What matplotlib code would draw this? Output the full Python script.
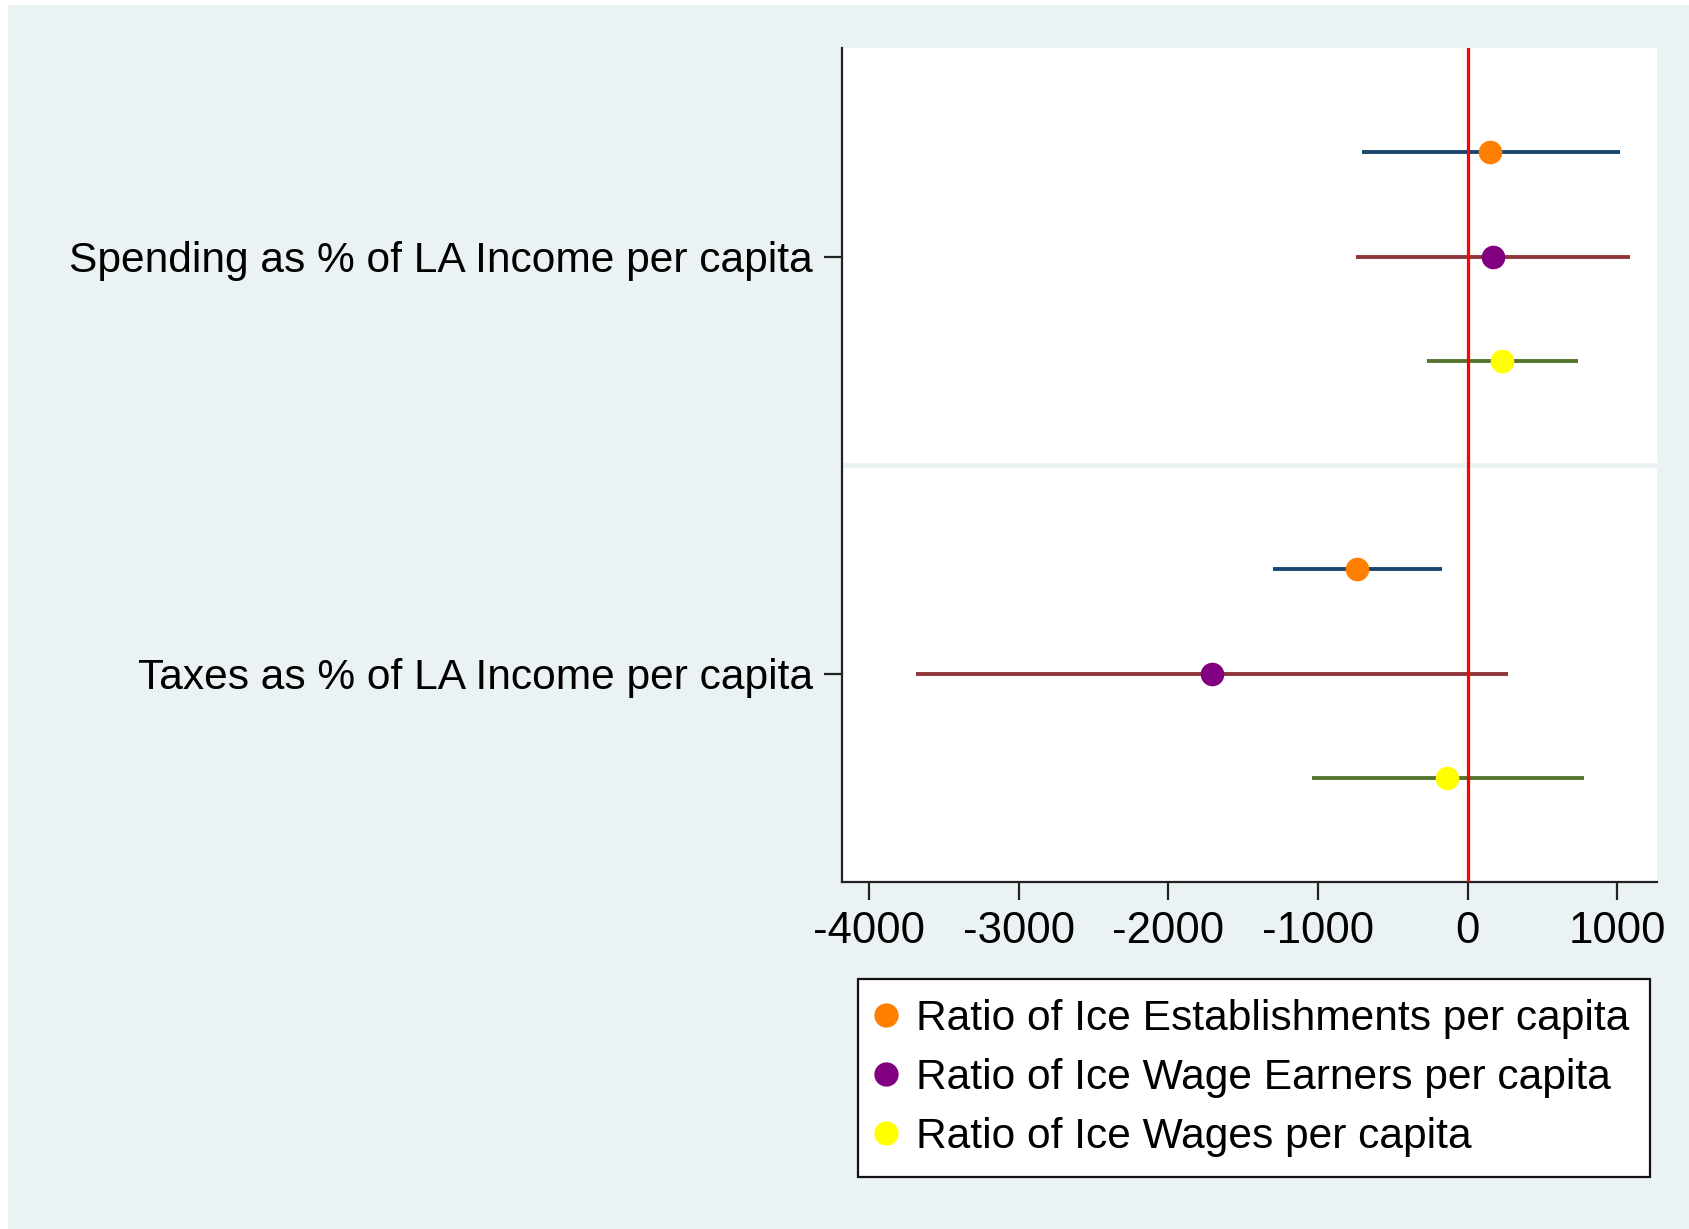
import matplotlib
matplotlib.use("Agg")
import matplotlib.pyplot as plt
from matplotlib.lines import Line2D
from matplotlib.patches import Rectangle

# outcome groups (y tick labels) and series
groups = ["Spending as % of LA Income per capita", "Taxes as % of LA Income per capita"]
series = [
    "Ratio of Ice Establishments per capita",
    "Ratio of Ice Wage Earners per capita",
    "Ratio of Ice Wages per capita",
]

# point estimates and CI bounds, per group, per series
coef_spending = [152, 167, 230]
lo_spending = [-705, -750, -271]
hi_spending = [1020, 1087, 735]

coef_taxes = [-742, -1711, -137]
lo_taxes = [-1299, -3688, -1043]
hi_taxes = [-171, 271, 776]

x_ticks = [-4000, -3000, -2000, -1000, 0, 1000]

BG = "#eaf2f3"
marker_colors = ["#ff7f00", "#800080", "#ffff00"]
ci_colors = ["#1a476f", "#90353b", "#55752f"]

plt.rcParams["font.family"] = ["Liberation Sans", "DejaVu Sans"]

W, H = 1690, 1229
fig = plt.figure(figsize=(W / 100, H / 100), dpi=100)
fig.patch.set_facecolor("white")
fig.patches.append(Rectangle((8 / W, 0), 1 - 8 / W, 1 - 5 / H, transform=fig.transFigure,
                             facecolor=BG, edgecolor="none", zorder=-10))

left, right, top, bottom = 842, 1657, 48, 882
ax = fig.add_axes([left / W, 1 - bottom / H, (right - left) / W, (bottom - top) / H])
ax.set_facecolor("white")

blocks = [(coef_spending, lo_spending, hi_spending), (coef_taxes, lo_taxes, hi_taxes)]
for g, (coef, lo, hi) in enumerate(blocks):
    base = 1 + 4 * g
    for i in range(len(series)):
        y = base + i
        ax.hlines(y, lo[i], hi[i], color=ci_colors[i], lw=2.8, zorder=2)
        ax.plot(coef[i], y, "o", color=marker_colors[i], ms=17, mec="none", zorder=4)

ax.axvline(0, color="#ff0000", lw=2.3, zorder=3)
ax.axhline(4, color=BG, lw=3.5, zorder=1)

ax.set_xlim(-4182, 1265)
ax.set_ylim(8, 0)
ax.set_xticks(x_ticks)
ax.set_xticklabels([str(t) for t in x_ticks])
ax.set_yticks([2, 6])
ax.set_yticklabels(groups)

for s in ["top", "right"]:
    ax.spines[s].set_visible(False)
for s in ["left", "bottom"]:
    ax.spines[s].set_linewidth(1.6)
    ax.spines[s].set_color("#222222")

ax.tick_params(axis="both", length=13, width=1.6, color="#222222")
ax.tick_params(axis="y", pad=8, labelsize=30.6)
ax.tick_params(axis="x", pad=8, labelsize=31.5)

handles = [Line2D([], [], marker="o", ls="none", color=c, ms=17.5, mec="none") for c in marker_colors]
leg = fig.legend(handles, series, loc="upper left", bbox_to_anchor=(858 / W, 1 - 979 / H),
                 fontsize=30.6, frameon=True, fancybox=False, shadow=False,
                 borderaxespad=0, borderpad=0.47, handletextpad=0.5, handlelength=0.4,
                 labelspacing=0.45)
leg.get_frame().set_edgecolor("#111111")
leg.get_frame().set_linewidth(1.6)
leg.get_frame().set_alpha(1)

fig.savefig("out.png", dpi=100)
